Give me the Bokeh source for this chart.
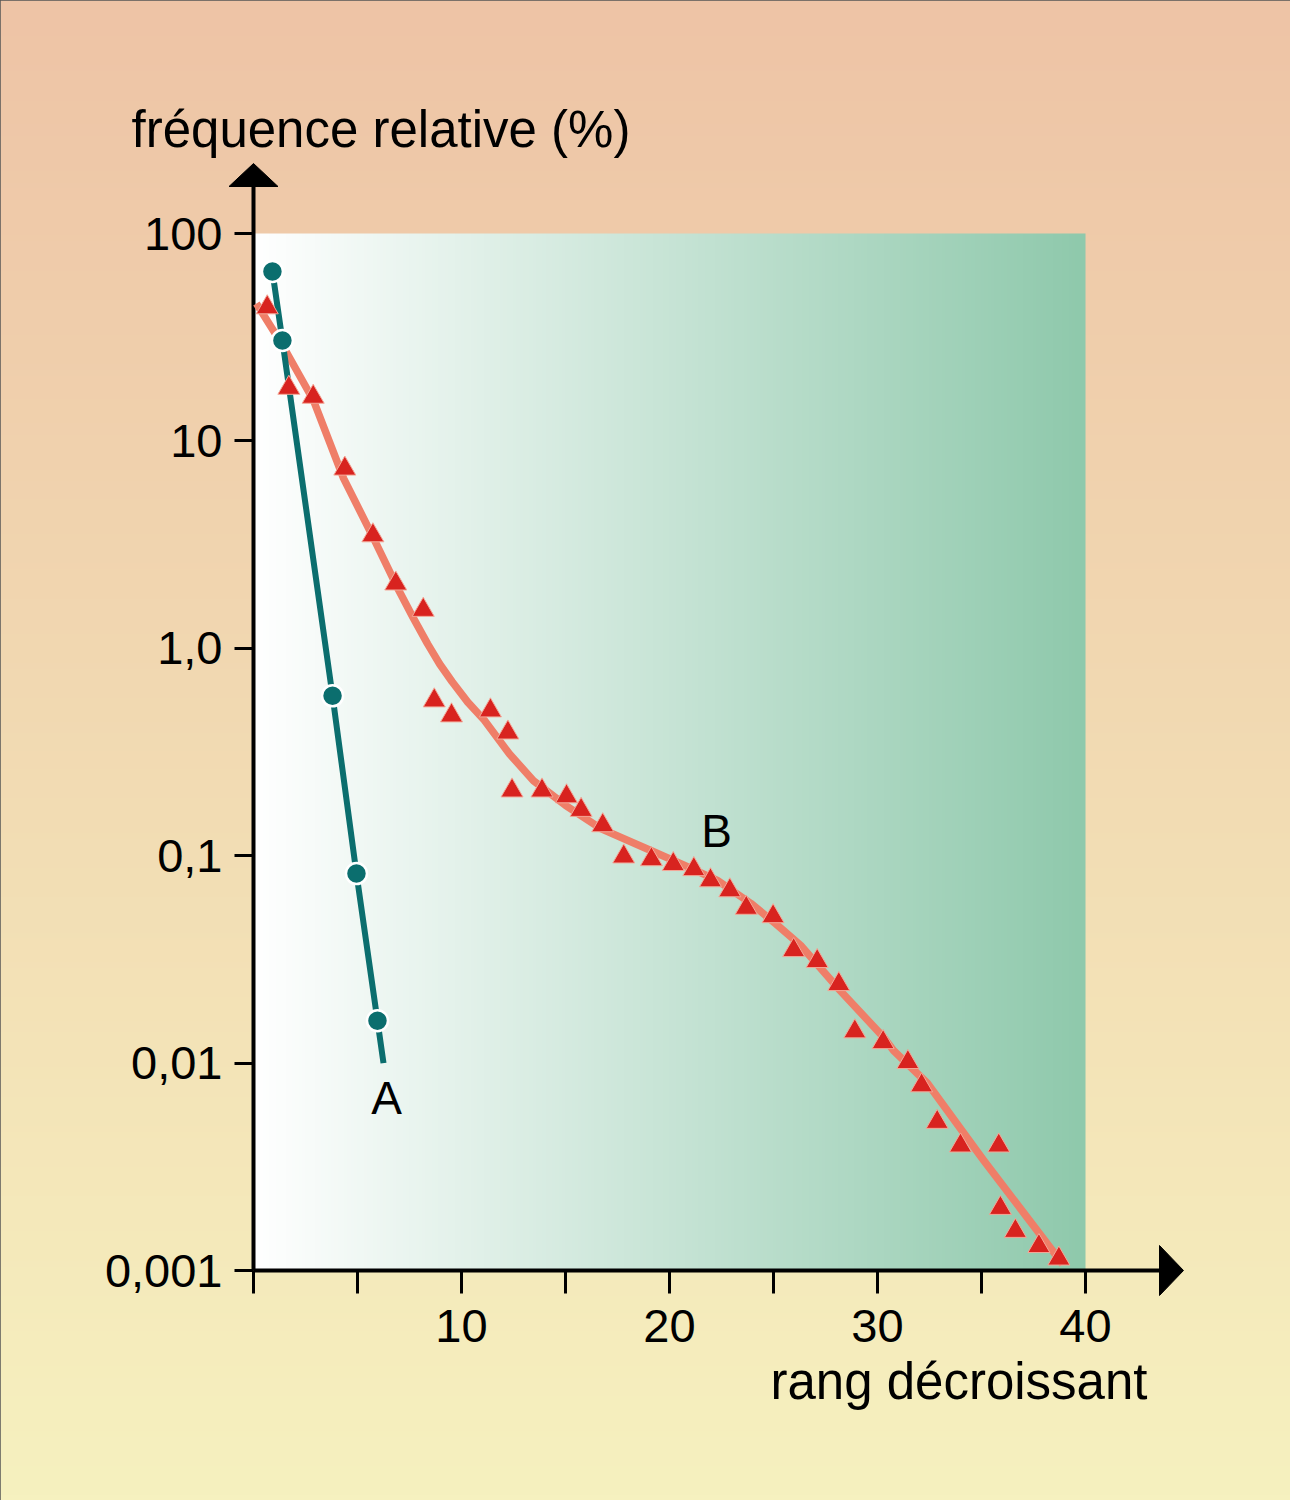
import numpy as np
from bokeh.plotting import figure
from bokeh.models import Range1d, FixedTicker, Label
from bokeh.embed import file_html
from bokeh.resources import INLINE

# ---------------- data ----------------
# Series A : circles
a_rank = [0.91, 1.39, 3.80, 4.95, 5.96]
a_freq = [65.6, 30.5, 0.59, 0.082, 0.016]
# Series A : fitted line
a_line_rank = [0.91, 1.39, 3.80, 4.95, 5.96, 6.25]
a_line_freq = [65.6, 30.5, 0.59, 0.082, 0.016, 0.010]

# Series B : triangles
b_rank = [0.66, 1.70, 2.87, 4.39, 5.74, 6.84, 8.16, 8.69, 9.52, 11.39,
          12.23, 12.43, 13.87, 15.05, 15.75, 16.79, 17.80, 19.13, 20.18, 21.17,
          21.97, 22.90, 23.69, 24.98, 25.97, 27.10, 28.14, 28.91, 30.27, 31.46,
          32.12, 32.87, 33.99, 35.83, 35.91, 36.63, 37.76, 38.72]
b_freq = [44.0, 18.0, 16.3, 7.34, 3.50, 2.05, 1.53, 0.560, 0.474, 0.501,
          0.392, 0.206, 0.206, 0.193, 0.166, 0.140, 0.099, 0.096, 0.091, 0.086,
          0.076, 0.068, 0.056, 0.051, 0.035, 0.031, 0.024, 0.0142, 0.0126, 0.0101,
          0.0078, 0.0052, 0.0040, 0.0040, 0.0020, 0.00155, 0.00131, 0.00114]
# Series B : fitted curve
b_curve_rank = [0.14, 1.39, 2.88, 4.33, 5.77, 6.92, 7.65, 8.37, 8.95, 9.55,
                10.3, 11.1, 12.3, 13.46, 15.0, 16.7, 19.1, 20.7, 22.3, 23.9,
                25.1, 26.3, 28.2, 30.3, 30.77, 32.4, 35.1, 38.65, 38.9]
b_curve_freq = [46.0, 29.0, 15.7, 6.6, 3.4, 1.96, 1.42, 1.05, 0.84, 0.69,
                0.55, 0.45, 0.31, 0.23, 0.175, 0.135, 0.106, 0.090, 0.076, 0.059,
                0.047, 0.037, 0.0224, 0.0133, 0.0115, 0.0080, 0.0034, 0.00116, 0.00107]

x_ticks = [0, 5, 10, 15, 20, 25, 30, 35, 40]
x_tick_labels = ["", "", "10", "", "20", "", "30", "", "40"]
y_ticks = [0.001, 0.01, 0.1, 1, 10, 100]
y_tick_labels = ["0,001", "0,01", "0,1", "1,0", "10", "100"]

# ---------------- layout ----------------
FIG_W, FIG_H = 1290, 1500
X0_PX, X40_PX = 253, 1085    # page px of rank 0 and 40
Y100_PX, Y0001_PX = 233, 1270
XS = (X40_PX - X0_PX) / 40.0
YS = (Y0001_PX - Y100_PX) / 5.0

x_start = -X0_PX / XS
x_end = 40 + (FIG_W - X40_PX) / XS
y_end = 10 ** (2 + Y100_PX / YS)
y_start = 10 ** (-3 - (FIG_H - Y0001_PX) / YS)


def rx(px):
    return (px - X0_PX) / XS


def ry(py):
    return 10 ** (2 - (py - Y100_PX) / YS)


FONT = "Liberation Sans"

p = figure(width=FIG_W, height=FIG_H,
           x_range=Range1d(x_start, x_end), y_range=Range1d(y_start, y_end),
           y_axis_type="log", output_backend="svg", toolbar_location=None,
           min_border=0, background_fill_color=None, border_fill_color=None,
           outline_line_color="#555555", outline_line_width=2)
p.grid.visible = False

# page background: vertical gradient
n = 256
t = np.linspace(0, 1, n)
top = np.array([238, 196, 166])
bot = np.array([246, 241, 191])
bg = np.empty((n, 1), dtype=np.uint32)
v = bg.view(dtype=np.uint8).reshape((n, 1, 4))
for i in range(3):
    v[:, 0, i] = (bot[i] + (top[i] - bot[i]) * t).astype(np.uint8)
v[:, 0, 3] = 255
p.image_rgba(image=[bg], x=x_start, y=y_start, dw=x_end - x_start, dh=y_end - y_start)

# plot area: horizontal gradient white -> green
left = np.array([255, 255, 255])
right = np.array([143, 201, 172])
pa = np.empty((1, n), dtype=np.uint32)
v2 = pa.view(dtype=np.uint8).reshape((1, n, 4))
for i in range(3):
    v2[0, :, i] = (left[i] + (right[i] - left[i]) * t).astype(np.uint8)
v2[0, :, 3] = 255
p.image_rgba(image=[pa], x=0, y=0.001, dw=40, dh=100 - 0.001)

# axes (library axes at fixed locations)
xa = p.xaxis[0]
xa.fixed_location = 0.001
xa.ticker = FixedTicker(ticks=x_ticks)
xa.major_label_overrides = dict(zip(x_ticks, x_tick_labels))
ya = p.yaxis[0]
ya.fixed_location = 0
ya.ticker = FixedTicker(ticks=y_ticks)
ya.major_label_overrides = dict(zip(y_ticks, y_tick_labels))
for ax, tout, so in ((xa, 23, 16), (ya, 19, 12)):
    ax.axis_line_color = None
    ax.major_tick_line_color = "black"
    ax.major_tick_line_width = 3
    ax.major_tick_in = 0
    ax.major_tick_out = tout
    ax.minor_tick_line_color = None
    ax.major_label_text_font = FONT
    ax.major_label_text_font_size = "47px"
    ax.major_label_text_color = "black"
    ax.major_label_standoff = so

# axis lines with arrow heads
p.line([0, rx(1162)], [0.001, 0.001], line_color="black", line_width=4)
p.line([0, 0], [0.001, ry(184)], line_color="black", line_width=4)
p.patch([rx(1183), rx(1159), rx(1159)], [0.001, ry(1245), ry(1295)],
        fill_color="black", line_color="black", line_width=1)
p.patch([0, rx(228.5), rx(277.5)], [ry(163), ry(186), ry(186)],
        fill_color="black", line_color="black", line_width=1)

# series
p.line(b_curve_rank, b_curve_freq, line_color="#EF7E68", line_width=7.5, line_join="round")
p.line(a_line_rank, a_line_freq, line_color="#0B6E6E", line_width=6)
p.scatter(b_rank, b_freq, marker="triangle", size=22, fill_color="#D8231F",
          line_color="#F4A898", line_width=1)
p.scatter(a_rank, a_freq, marker="circle", size=21, fill_color="#0B6E6E",
          line_color="white", line_width=2.5)

# texts
p.add_layout(Label(x=rx(131), y=ry(129), text="fréquence relative (%)", text_align="left",
                   text_baseline="alphabetic", text_font=FONT, text_font_size="51px",
                   text_color="black"))
p.add_layout(Label(x=rx(1147), y=ry(1381), text="rang décroissant", text_align="right",
                   text_baseline="alphabetic", text_font=FONT, text_font_size="51px",
                   text_color="black"))
p.add_layout(Label(x=rx(386), y=ry(1097), text="A", text_align="center",
                   text_baseline="alphabetic", text_font=FONT, text_font_size="46px",
                   text_color="black"))
p.add_layout(Label(x=rx(716), y=ry(830), text="B", text_align="center",
                   text_baseline="alphabetic", text_font=FONT, text_font_size="46px",
                   text_color="black"))

open("out.html", "w").write(file_html(p, INLINE))
